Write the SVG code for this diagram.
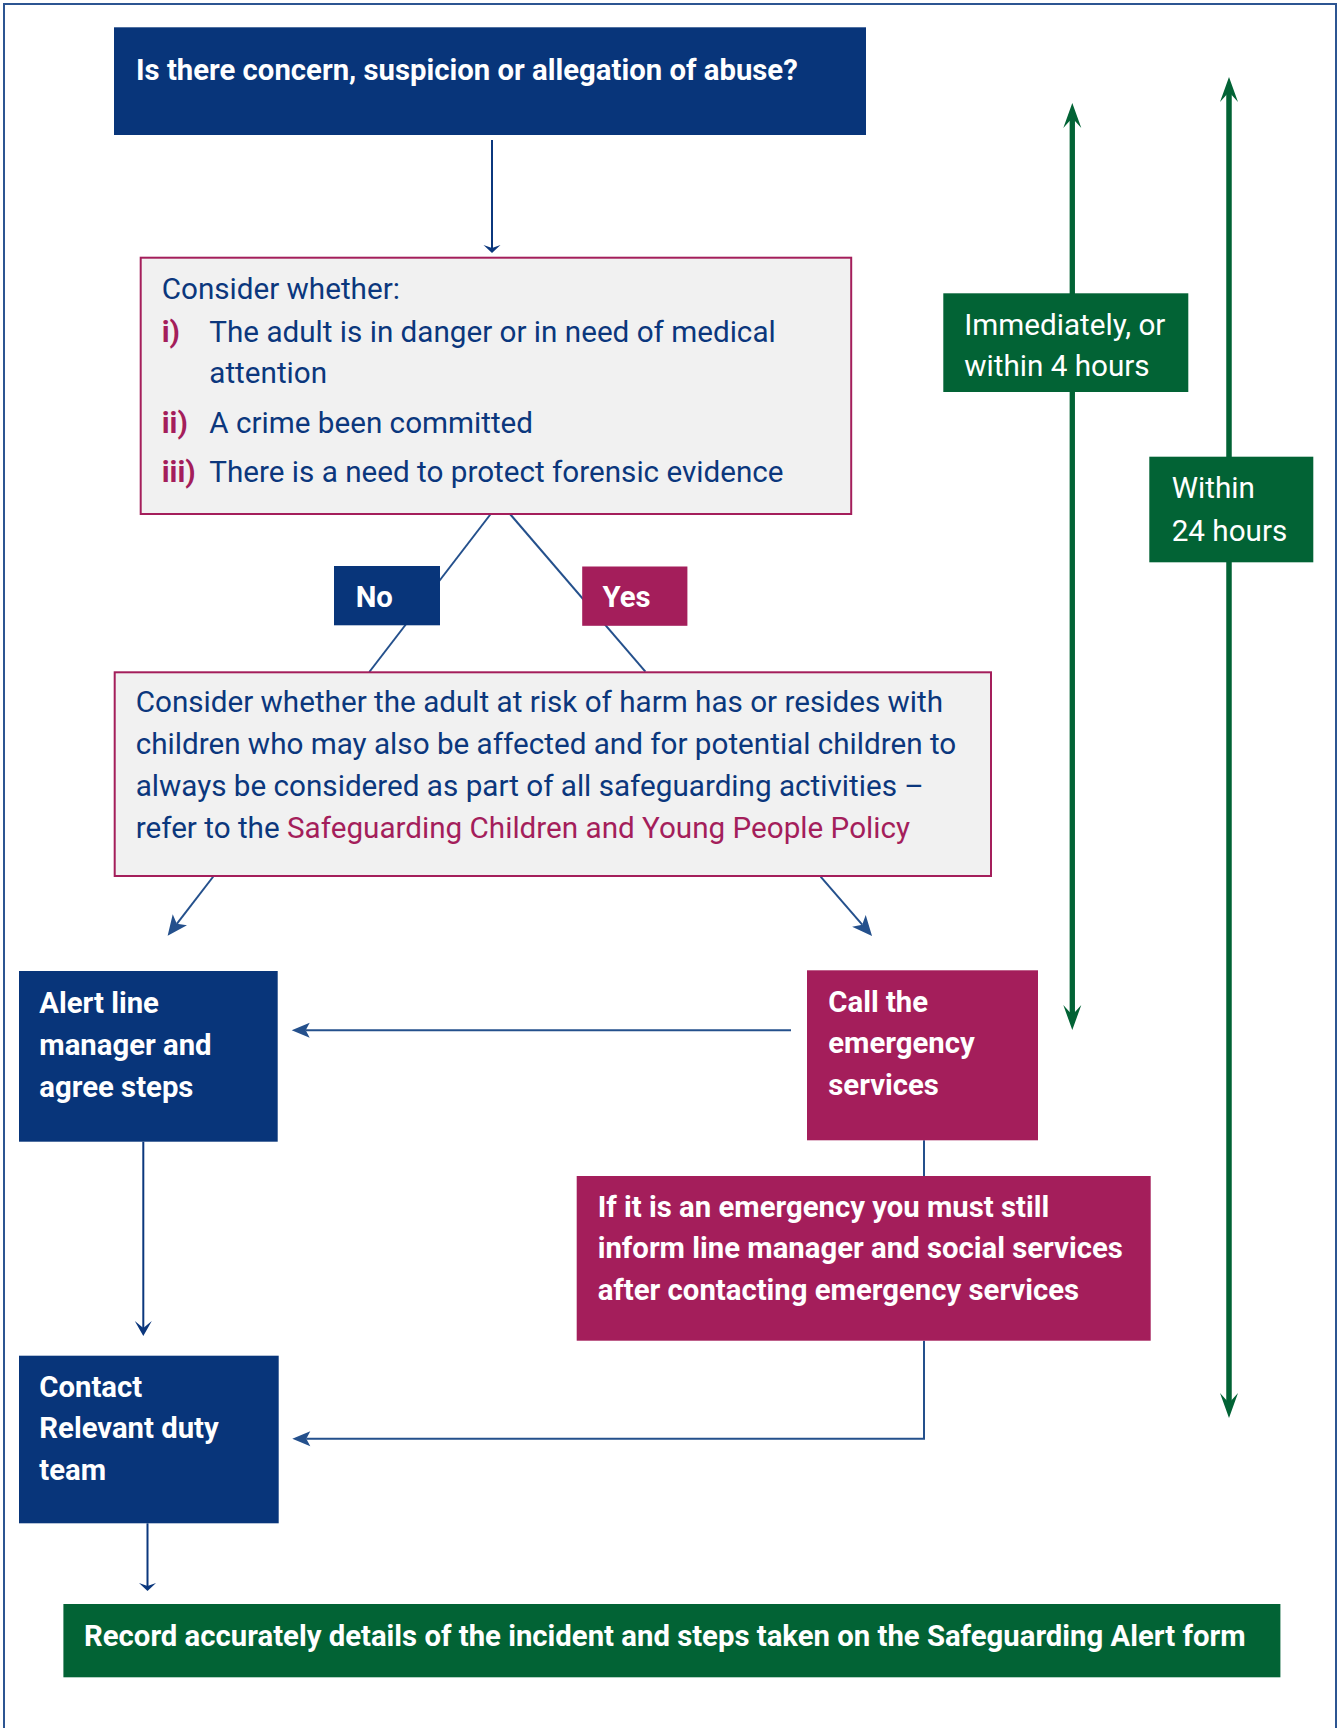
<svg xmlns="http://www.w3.org/2000/svg" width="1343" height="1728" viewBox="0 0 1343 1728">
<style>
text{font-family:Roboto,"Liberation Sans",sans-serif;font-size:29.65px}
.b{font-weight:bold;fill:#ffffff;font-size:29.3px}
.w{fill:#ffffff}
.t{fill:#0b377d}
.c{fill:#a41e5b}
.n{fill:#a41e5b;font-weight:bold}
.navy{fill:#08357a}
.crim{fill:#a41e5b}
.green{fill:#026335}
.grey{fill:#f1f1f1;stroke:#a41e5b;stroke-width:2}
.ln{fill:none;stroke:#24508c;stroke-width:2}
.lnd{fill:none;stroke:#0b377d;stroke-width:2}
.gl{fill:none;stroke:#026335;stroke-width:5}
</style>
<defs>
<marker id="big" markerUnits="userSpaceOnUse" markerWidth="40" markerHeight="40" viewBox="-10 -20 40 40" refX="0" refY="0" orient="auto" overflow="visible"><path d="M-5,-9 L15,0 L-5,9 L0,0 Z" fill="#24508c"/></marker>
<marker id="mid" markerUnits="userSpaceOnUse" markerWidth="40" markerHeight="40" viewBox="-10 -20 40 40" refX="0" refY="0" orient="auto" overflow="visible"><path d="M-4,-7.5 L14,0 L-4,7.5 L0,0 Z" fill="#24508c"/></marker>
<marker id="flat" markerUnits="userSpaceOnUse" markerWidth="40" markerHeight="40" viewBox="-10 -20 40 40" refX="0" refY="0" orient="auto" overflow="visible"><path d="M-4,-8.5 L4,0 L-4,8.5 L-1,0 Z" fill="#0b377d"/></marker>
<marker id="down" markerUnits="userSpaceOnUse" markerWidth="40" markerHeight="40" viewBox="-10 -20 40 40" refX="0" refY="0" orient="auto" overflow="visible"><path d="M-7,-8.5 L8,0 L-7,8.5 L0,0 Z" fill="#0b377d"/></marker>
<marker id="gh" markerUnits="userSpaceOnUse" markerWidth="50" markerHeight="50" viewBox="-20 -20 50 50" refX="0" refY="0" orient="auto" overflow="visible"><path d="M-10,-9 L15,0 L-10,9 L0,0 Z" fill="#026335"/></marker>
</defs>
<rect x="4" y="4" width="1332" height="1760" fill="none" stroke="#2c5592" stroke-width="2"/>

<g id="connectors">
<line class="lnd" x1="492" y1="140" x2="492" y2="249" marker-end="url(#flat)"/>
<line class="ln" x1="490.7" y1="514" x2="369.3" y2="672"/>
<line class="ln" x1="510" y1="514" x2="645.4" y2="671.7"/>
<line class="ln" x1="213.3" y1="876.5" x2="176.8" y2="923.8" marker-end="url(#big)"/>
<line class="ln" x1="820.6" y1="876.7" x2="862.2" y2="924.7" marker-end="url(#big)"/>
<line class="ln" x1="791" y1="1030.3" x2="305.7" y2="1030.3" marker-end="url(#mid)"/>
<line class="lnd" x1="143.3" y1="1141.7" x2="143.3" y2="1328" marker-end="url(#down)"/>
<line class="ln" x1="924" y1="1140.3" x2="924" y2="1176"/>
<polyline class="ln" points="924,1340.7 924,1438.7 306.3,1438.7" marker-end="url(#mid)"/>
<line class="lnd" x1="147.5" y1="1523.3" x2="147.5" y2="1587" marker-end="url(#flat)"/>
<line class="gl" x1="1072.3" y1="1015" x2="1072.3" y2="118" marker-end="url(#gh)"/>
<line class="gl" x1="1072.3" y1="118" x2="1072.3" y2="1015" marker-end="url(#gh)"/>
<line class="gl" x1="1229" y1="1403" x2="1229" y2="92" marker-end="url(#gh)"/>
<line class="gl" x1="1229" y1="92" x2="1229" y2="1403" marker-end="url(#gh)"/>
</g>

<g id="n-question">
<rect class="navy" x="114" y="27.3" width="752" height="107.7"/>
<text class="b" x="136" y="80">Is there concern, suspicion or allegation of abuse?</text>
</g>

<g id="n-consider">
<rect class="grey" x="140.7" y="257.7" width="710.5" height="256.3"/>
<text class="t" x="161.7" y="299">Consider whether:</text>
<text class="n" x="161.7" y="341.7">i)</text>
<text class="t" x="209.3" y="341.7">The adult is in danger or in need of medical</text>
<text class="t" x="209.3" y="383.3">attention</text>
<text class="n" x="161.7" y="432.7">ii)</text>
<text class="t" x="209.3" y="432.7">A crime been committed</text>
<text class="n" x="161.7" y="482.3">iii)</text>
<text class="t" x="209.3" y="482.3">There is a need to protect forensic evidence</text>
</g>

<g id="n-no">
<rect class="navy" x="334" y="566" width="106" height="59.3"/>
<text class="b" x="355.7" y="607.3">No</text>
</g>

<g id="n-yes">
<rect class="crim" x="582.2" y="566.5" width="105.2" height="59.3"/>
<text class="b" x="602.6" y="607.3">Yes</text>
</g>

<g id="n-children">
<rect class="grey" x="114.7" y="672.3" width="876.3" height="203.7"/>
<text class="t" x="135.7" y="712">Consider whether the adult at risk of harm has or resides with</text>
<text class="t" x="135.7" y="754.3">children who may also be affected and for potential children to</text>
<text class="t" x="135.7" y="796">always be considered as part of all safeguarding activities –</text>
<text class="t" x="135.7" y="838.3">refer to the <tspan class="c">Safeguarding Children and Young People Policy</tspan></text>
</g>

<g id="n-alert">
<rect class="navy" x="19" y="971" width="258.7" height="170.7"/>
<text class="b" x="39.3" y="1013.3">Alert line</text>
<text class="b" x="39.3" y="1055">manager and</text>
<text class="b" x="39.3" y="1096.5">agree steps</text>
</g>

<g id="n-call">
<rect class="crim" x="807" y="970.3" width="231" height="170"/>
<text class="b" x="828.3" y="1011.7">Call the</text>
<text class="b" x="828.3" y="1053.3">emergency</text>
<text class="b" x="828.3" y="1094.5">services</text>
</g>

<g id="n-emergency">
<rect class="crim" x="576.7" y="1176" width="574" height="164.7"/>
<text class="b" x="597.7" y="1216.7">If it is an emergency you must still</text>
<text class="b" x="597.7" y="1258.3">inform line manager and social services</text>
<text class="b" x="597.7" y="1300">after contacting emergency services</text>
</g>

<g id="n-contact">
<rect class="navy" x="19" y="1355.7" width="259.7" height="167.6"/>
<text class="b" x="39.3" y="1396.7">Contact</text>
<text class="b" x="39.3" y="1438.3">Relevant duty</text>
<text class="b" x="39.3" y="1479.8">team</text>
</g>

<g id="n-record">
<rect class="green" x="63.4" y="1604" width="1217" height="73.3"/>
<text class="b" x="84" y="1646">Record accurately details of the incident and steps taken on the Safeguarding Alert form</text>
</g>

<g id="n-4hours">
<rect class="green" x="943.3" y="293.3" width="245" height="98.7"/>
<text class="w" x="964.3" y="335">Immediately, or</text>
<text class="w" x="964.3" y="375.7">within 4 hours</text>
</g>

<g id="n-24hours">
<rect class="green" x="1149.3" y="456.7" width="164" height="105.6"/>
<text class="w" x="1171.7" y="498.3">Within</text>
<text class="w" x="1171.7" y="540.7">24 hours</text>
</g>
</svg>
